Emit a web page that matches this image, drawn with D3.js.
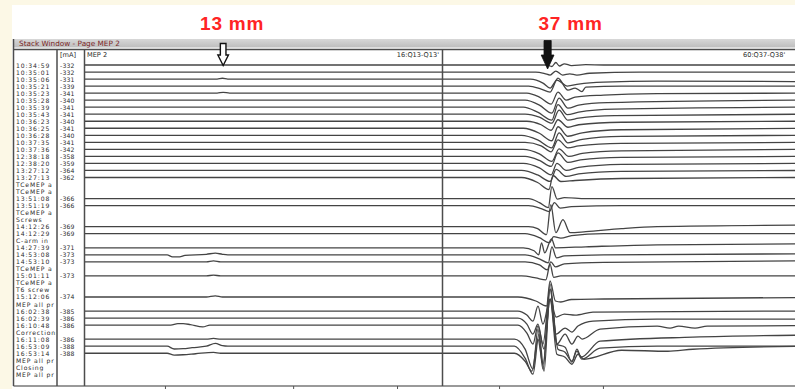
<!DOCTYPE html>
<html><head><meta charset="utf-8">
<script src="https://cdn.jsdelivr.net/npm/d3@7"></script>
<style>
html,body{margin:0;padding:0;background:#fff;}
svg{display:block;}
</style></head><body>
<svg id="chart" width="795" height="389"></svg>
<script>
// ---------------- DATA ----------------
const windowTitle = "Stack Window - Page MEP 2";
const pageName = "MEP 2";
const unitLabel = "[mA]";
const channelNames = ["16:Q13-Q13'", "60:Q37-Q38'"];

// one entry per row of the stack (45 rows)
const rowLabels = [
  "10:34:59","10:35:01","10:35:06","10:35:21","10:35:23","10:35:28","10:35:39","10:35:43",
  "10:36:23","10:36:25","10:36:28","10:37:35","10:37:36","12:38:18","12:38:20","13:27:12",
  "13:27:13","TCeMEP a","TCeMEP a","13:51:08","13:51:19","TCeMEP a","Screws","14:12:26",
  "14:12:29","C-arm in","14:27:39","14:53:08","14:53:10","TCeMEP a","15:01:11","TCeMEP a",
  "T6 screw","15:12:06","MEP all pr","16:02:38","16:02:39","16:10:48","Corrections","16:11:08",
  "16:53:09","16:53:14","MEP all pr","Closing","MEP all pr"
];
const rowCurrents = [
  "-332","-332","-331","-339","-341","-340","-341","-341",
  "-340","-341","-340","-341","-342","-358","-359","-364",
  "-362","","","-366","-366","","","-369",
  "-369","","-371","-373","-373","","-373","",
  "","-374","","-385","-386","-386","","-386",
  "-388","-388","","",""
];
// rows that carry a recorded trace
const traceRows = [0,1,2,3,4,5,6,7,8,9,10,11,12,13,14,15,16,19,20,23,24,26,27,28,30,33,35,36,37,39,40,41];

// waveforms: [time ms, amplitude µV] breakpoints, one per trace (same order as traceRows)
const leftWaves = [
  [[0,0],[100,0]], [[0,0],[100,0]], [[0,0],[37,0],[38.5,8],[40,0],[100,0]], [[0,0],[100,0]],
  [[0,0],[37,0],[38.7,8],[40.5,0],[100,0]], [[0,0],[100,0]], [[0,0],[100,0]], [[0,0],[100,0]],
  [[0,0],[100,0]], [[0,0],[100,0]], [[0,0],[100,0]], [[0,0],[100,0]],
  [[0,0],[100,0]], [[0,0],[100,0]], [[0,0],[100,0]], [[0,0],[100,0]],
  [[0,0],[100,0]], [[0,0],[100,0]], [[0,0],[100,0]], [[0,0],[100,0]],
  [[0,0],[100,0]], [[0,0],[100,0]],
  [[0,0],[23,0],[24.5,-20],[26.5,-20],[28,-5],[34,5],[36.5,17],[38.5,5],[40,0],[100,0]],
  [[0,0],[34,0],[36,10],[38,0],[100,0]],
  [[0,0],[34,0],[36,8],[38,0],[100,0]],
  [[0,0],[34,0],[36.5,12],[38.5,0],[100,0]],
  [[0,0],[100,0]], [[0,0],[100,0]],
  [[0,0],[24,0],[26,15],[27.5,15],[29.5,5],[33,-18],[35,0],[100,0]],
  [[0,0],[34,0],[36,8],[38,0],[100,0]],
  [[0,0],[23,0],[25,-28],[27.5,-25],[30,-15],[34,0],[36.5,28],[38.5,5],[40,0],[100,0]],
  [[0,0],[23,0],[25,-18],[27.5,-15],[31,-5],[36,8],[38,0],[100,0]]
];
const rightWaves = [
  [[0,0],[29,0],[30.5,-15],[31.6,25],[32.6,-10],[34,12],[36,-6],[40,3],[45,0],[100,0]],
  [[0,0],[26,0],[28.5,-15],[30,-30],[31.6,10],[33.5,-30],[35.5,-18],[37.5,-30],[41,-12],[55,0],[100,0]],
  [[0,0],[24.5,0],[28,-40],[30,-90],[31.9,-10],[34.8,-70],[38,-50],[45,-30],[60,-20],[100,-25]],
  [[0,0],[24,0],[27.5,-30],[30,-60],[32.2,80],[35,-40],[37,-20],[38.9,-55],[40,-10],[50,0],[100,0]],
  [[0,0],[23.5,0],[27,-40],[30.3,-110],[32.2,10],[34.5,-70],[37,-40],[45,-20],[60,-5],[100,0]],
  [[0,0],[23,0],[27,-50],[30.5,-130],[32.5,20],[35,-80],[38,-50],[46,-25],[100,0]],
  [[0,0],[22.5,0],[26.5,-50],[30.5,-130],[32.2,25],[34.8,-75],[38,-50],[48,-20],[100,0]],
  [[0,0],[23,0],[27,-30],[30.5,-90],[32.5,40],[35,-60],[38,-40],[48,-15],[100,0]],
  [[0,0],[23.5,0],[27.5,-35],[30.3,-90],[32.2,15],[35,-60],[38,-35],[50,-10],[100,0]],
  [[0,0],[22.5,0],[27,-50],[30.5,-125],[32.2,15],[35,-80],[39,-45],[50,-15],[100,0]],
  [[0,0],[22,0],[26.5,-45],[30.5,-125],[32.5,25],[35,-75],[39,-40],[50,-10],[100,0]],
  [[0,0],[23,0],[27.5,-35],[30.3,-95],[32.2,25],[35,-55],[38,-35],[50,-10],[100,0]],
  [[0,0],[22.5,0],[27,-45],[30.5,-120],[32.5,5],[35.2,-70],[39,-40],[50,-15],[100,0]],
  [[0,0],[23,0],[27,-40],[30.3,-100],[32.2,35],[35,-60],[38.5,-35],[50,-10],[100,0]],
  [[0,0],[22.5,0],[27,-45],[30.3,-115],[31.9,0],[34.5,-70],[38,-40],[50,-10],[100,0]],
  [[0,0],[22,0],[26.5,-45],[30,-110],[31.7,10],[34.5,-60],[38,-35],[50,-10],[100,0]],
  [[0,0],[22,0],[26.5,-50],[29.7,-120],[30.8,20],[33,-40],[37,-30],[50,-10],[100,0]],
  [[0,0],[24,0],[27,-40],[29.5,-90],[30.5,120],[32,-5],[34,10],[40,0],[100,0]],
  [[0,0],[24,0],[27.5,-30],[29.8,-60],[31.2,30],[32.8,-25],[36,-10],[50,0],[100,0]],
  [[0,0],[24,0],[26.5,-20],[29,-80],[30.2,220],[31.6,-60],[33.6,70],[35.6,-60],[40,-50],[50,-20],[60,0],[100,15]],
  [[0,0],[23,0],[27,-40],[29.8,-90],[31,-30],[33,-45],[36,-20],[45,0],[100,0]],
  [[0,0],[22.5,0],[25.5,-30],[26.8,-70],[27.6,50],[28.5,-50],[30.4,90],[31.5,0],[40,10],[60,30],[100,40]],
  [[0,0],[23,0],[27,-40],[29.5,-80],[30.5,80],[31.8,-30],[34,-10],[45,0],[100,10]],
  [[0,0],[23,0],[27,-30],[29.2,-80],[30.2,0],[31.5,-50],[34,-20],[45,-5],[100,10]],
  [[0,0],[22,0],[26,-20],[28.8,-40],[30,115],[31,-15],[33,0],[100,0]],
  [[0,0],[21,0],[26,-40],[29,-90],[30,160],[31.5,-40],[33,-50],[36,-25],[45,-20],[100,-5]],
  [[0,0],[21,0],[23.5,-40],[25.2,-100],[26.6,50],[28,-130],[30,120],[31.7,-60],[34,-30],[37,-40],[42,-10],[100,0]],
  [[0,0],[21,0],[23.5,-60],[25.2,-160],[26.6,-60],[28,-260],[30,290],[31.7,-160],[34.2,-100],[36.1,-140],[37.8,-80],[42,-30],[60,-10],[100,-10]],
  [[0,0],[21,0],[23.5,-80],[25.2,-190],[26.6,-10],[28.3,-240],[30,260],[31.9,-190],[34.2,-90],[36.1,-190],[37.8,-110],[39,-140],[44,-40],[60,-10],[63.6,-30],[66,-10],[70.6,-30],[74,-10],[100,-5]],
  [[0,0],[20,0],[23,-100],[25.2,-300],[26.6,100],[28,-300],[30,550],[31.9,-50],[34.2,-80],[36.1,-230],[37.5,-100],[38.7,-180],[44,-20],[70,20],[100,40]],
  [[0,0],[20,0],[23,-120],[25.2,-280],[26.9,120],[28.3,-250],[30,570],[32.2,-30],[34.2,-60],[36.1,-150],[37.5,-50],[38.9,-130],[44,-20],[60,0],[100,0]],
  [[0,0],[20,0],[23,-80],[24.9,-180],[26.6,140],[28,-110],[30,540],[31.9,-10],[34.2,-40],[36.1,-110],[37.8,-10],[39.5,-60],[50,30],[63,20],[70,40],[100,70]]
];

const markerLabels = ["13 mm", "37 mm"];
const markerTimes = [38.7, 29.3];       // ms within left / right panel
const bottomTicksLeft = [22.4, 58.3, 87.4];
const bottomTicksRight = [15.7, 44.8];

// ---------------- DRAW ----------------
const W = 795, H = 389;
const svg = d3.select("#chart");
const defs = svg.append("defs");

const frame = {left:13.5, titleTop:39, headerLine:49.5, bottom:386, col1:57, col2:84.5, panelSep:442.5};
const xLeft = d3.scaleLinear().domain([0,100]).range([85, 442]);
const xRight = d3.scaleLinear().domain([0,100]).range([443, 800]);
const yRow = d3.scaleLinear().domain([0,44]).range([65, 65 + 44*7.03]);
const amp = d3.scaleLinear().domain([-100,100]).range([10,-10]);

// background
svg.append("rect").attr("width",W).attr("height",H).attr("fill","#fff");
svg.append("rect").attr("width",W).attr("height",5).attr("fill","#fcf8e6");
svg.append("rect").attr("width",12).attr("height",H).attr("fill","#fcf8e6");

// title bar
const grad = defs.append("linearGradient").attr("id","tb").attr("x1",0).attr("y1",0).attr("x2",0).attr("y2",1);
grad.append("stop").attr("offset","0%").attr("stop-color","#d8d8d8");
grad.append("stop").attr("offset","100%").attr("stop-color","#bdbdbd");
svg.append("rect").attr("x",frame.left).attr("y",frame.titleTop).attr("width",W-frame.left).attr("height",8.5)
  .attr("fill","url(#tb)");
svg.append("text").attr("x",19).attr("y",46.2).text(windowTitle)
  .attr("font-family","DejaVu Sans").attr("font-size",7.3).attr("fill","#7a2626");

// frame lines
const lineColor = "#4d4d4d";
svg.append("line").attr("x1",frame.left).attr("x2",W).attr("y1",frame.headerLine).attr("y2",frame.headerLine)
  .attr("stroke",lineColor).attr("stroke-width",1.6);
svg.append("line").attr("x1",frame.left).attr("x2",W).attr("y1",frame.bottom).attr("y2",frame.bottom)
  .attr("stroke","#777").attr("stroke-width",1.3);
[frame.left, frame.col1, frame.col2, frame.panelSep].forEach(x => {
  svg.append("line").attr("x1",x).attr("x2",x).attr("y1",x===frame.left?frame.titleTop:frame.headerLine).attr("y2",frame.bottom)
    .attr("stroke",lineColor).attr("stroke-width",1.5);
});

// header texts
const txt = (x,y,s,anchor) => svg.append("text").attr("x",x).attr("y",y).text(s)
  .attr("font-family","DejaVu Sans").attr("font-size",6.6).attr("fill","#2b2b2b")
  .attr("dominant-baseline","central").attr("text-anchor",anchor||"start");
txt(60, 54.5, unitLabel);
txt(87, 54.5, pageName);
txt(439, 54.5, channelNames[0], "end");
txt(743, 54.5, channelNames[1]);

// clip paths
defs.append("clipPath").attr("id","c1").append("rect").attr("x",14).attr("y",50).attr("width",42).attr("height",336);
defs.append("clipPath").attr("id","cL").append("rect").attr("x",85).attr("y",50).attr("width",357).attr("height",336);
defs.append("clipPath").attr("id","cR").append("rect").attr("x",443).attr("y",50).attr("width",357).attr("height",336);

// row labels
const labG = svg.append("g").attr("clip-path","url(#c1)");
labG.selectAll("text").data(rowLabels).join("text")
  .attr("x",16).attr("y",(d,i)=>yRow(i)).text(d=>d)
  .attr("font-family","DejaVu Sans").attr("font-size",6.1).attr("letter-spacing",0.85)
  .attr("fill","#2b2b2b").attr("dominant-baseline","central");
svg.append("g").selectAll("text").data(rowCurrents).join("text")
  .attr("x",60).attr("y",(d,i)=>yRow(i)).text(d=>d)
  .attr("font-family","DejaVu Sans").attr("font-size",6.1).attr("letter-spacing",0.2)
  .attr("fill","#2b2b2b").attr("dominant-baseline","central");

// traces
function drawPanel(clipId, xs, waves){
  const g = svg.append("g").attr("clip-path",`url(#${clipId})`);
  g.selectAll("path").data(waves).join("path")
    .attr("d",(w,k)=>{
      const base = yRow(traceRows[k]);
      return d3.line().x(d=>xs(d[0])).y(d=>base + amp(d[1])).curve(d3.curveMonotoneX)(w);
    })
    .attr("fill","none").attr("stroke","#444").attr("stroke-width",1.3)
    .attr("stroke-linejoin","round").attr("stroke-linecap","round");
}
drawPanel("cL", xLeft, leftWaves);
drawPanel("cR", xRight, rightWaves);

// bottom ticks
[[xLeft,bottomTicksLeft],[xRight,bottomTicksRight]].forEach(([xs,tv])=>{
  const ax = svg.append("g").attr("transform",`translate(0,${frame.bottom})`)
    .call(d3.axisBottom(xs).tickValues(tv).tickSize(3).tickFormat(""));
  ax.select(".domain").remove();
  ax.selectAll("line").attr("stroke","#555");
});

// markers (arrows + labels)
const markerX = [xLeft(markerTimes[0]), xRight(markerTimes[1])];
function arrow(cx, top, neck, tip, shaftHW, headHW){
  const p = d3.path();
  p.moveTo(cx-shaftHW, top); p.lineTo(cx+shaftHW, top); p.lineTo(cx+shaftHW, neck);
  p.lineTo(cx+headHW, neck); p.lineTo(cx, tip); p.lineTo(cx-headHW, neck);
  p.lineTo(cx-shaftHW, neck); p.closePath();
  return p.toString();
}
svg.append("path").attr("d",arrow(markerX[0],43.5,55,65.5,2.8,5.3))
  .attr("fill","#fff").attr("stroke","#111").attr("stroke-width",1.4).attr("stroke-linejoin","miter");
svg.append("path").attr("d",arrow(markerX[1],40.5,55,69,3.6,6.4))
  .attr("fill","#111").attr("stroke","#111").attr("stroke-width",0.8);
const labOffsets = [9, 23];
markerLabels.forEach((s,i)=>{
  svg.append("text").attr("x",markerX[i]+labOffsets[i]).attr("y",29.5).text(s)
    .attr("text-anchor","middle").attr("font-family","Liberation Sans").attr("font-weight","bold")
    .attr("font-size",19).attr("letter-spacing",0.8).attr("fill","#ff2424");
});
</script>
</body></html>
